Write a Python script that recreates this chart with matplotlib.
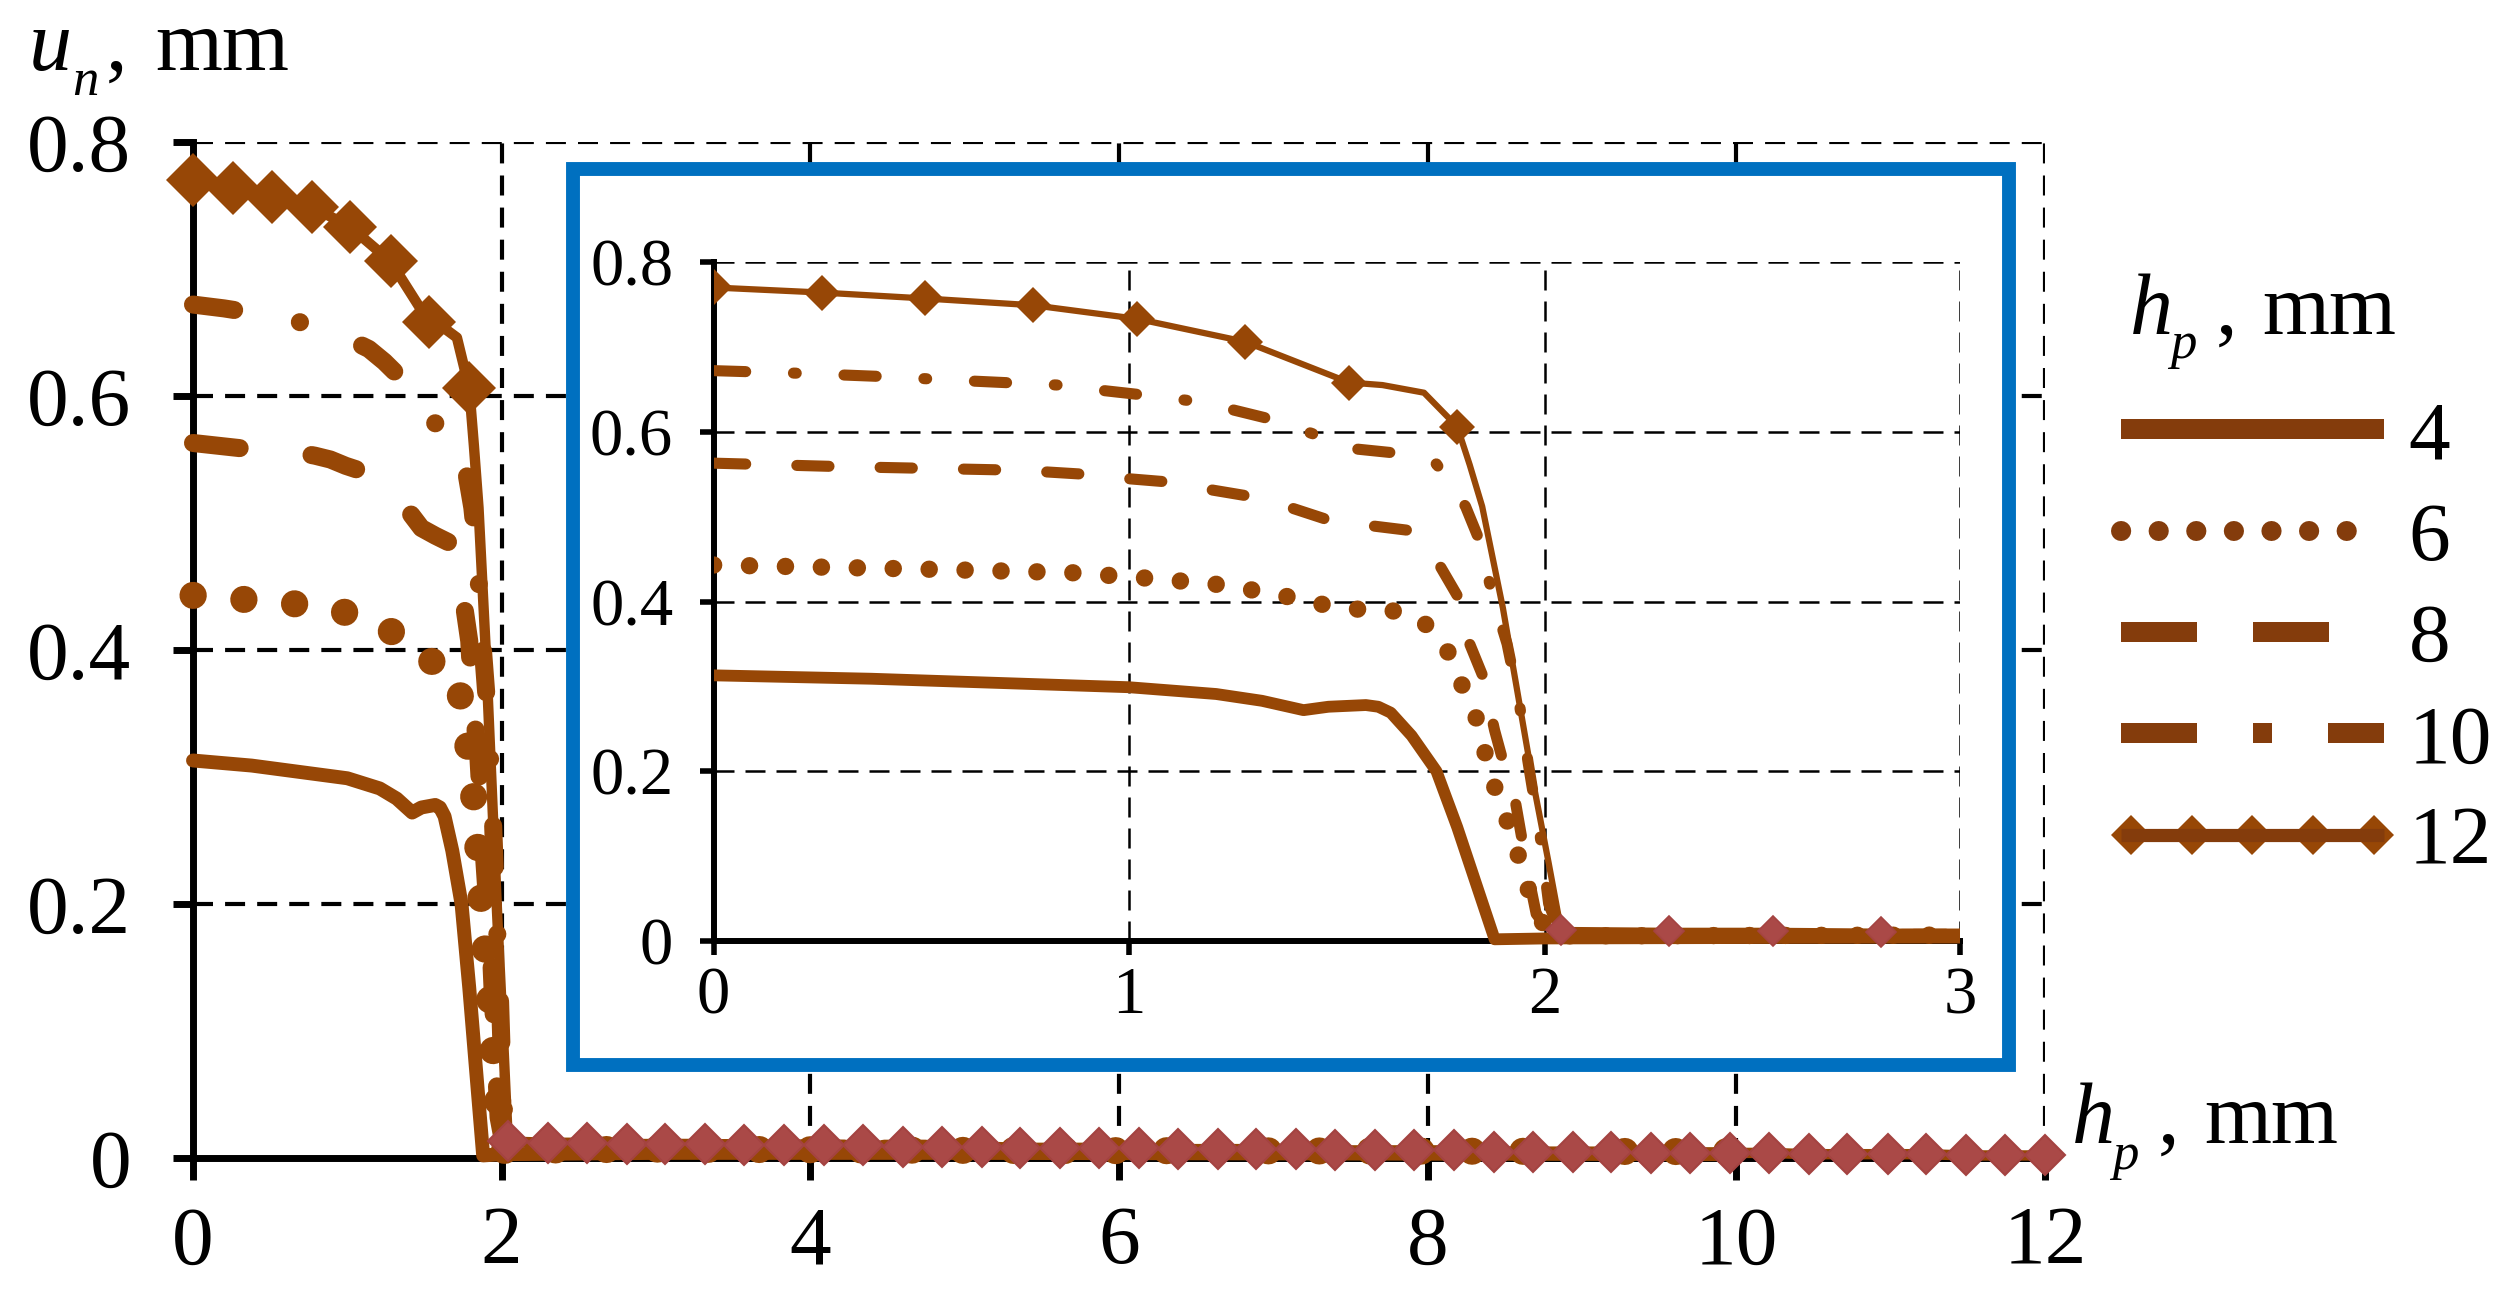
import matplotlib
matplotlib.use('Agg')
import matplotlib.pyplot as plt
from matplotlib.lines import Line2D
from matplotlib.patches import Rectangle
from matplotlib.legend_handler import HandlerLine2D, HandlerTuple

W, H = 2520, 1295
plt.rcParams['font.family'] = ['Liberation Serif', 'DejaVu Serif']

# ---------------- data ----------------
series_labels = ['4', '6', '8', '10', '12']

x4 = [0, 0.38, 1.00, 1.21, 1.32, 1.42, 1.48, 1.57, 1.60, 1.63, 1.68, 1.74, 1.79, 1.88, 2.0, 3.0, 5.0, 10.0]
y4 = [0.313, 0.309, 0.299, 0.291, 0.283, 0.272, 0.276, 0.278, 0.276, 0.269, 0.242, 0.200, 0.134, 0.002, 0.003, 0.004, 0.004, 0.003]

x6 = [0, 0.52, 0.86, 1.03, 1.20, 1.28, 1.37, 1.45, 1.53, 1.62, 1.70, 1.76, 1.79, 1.83, 1.85, 1.87, 1.90, 1.93,
      1.95, 1.98, 2.01, 3.0, 5.0, 10.0]
y6 = [0.443, 0.438, 0.434, 0.428, 0.421, 0.415, 0.407, 0.398, 0.391, 0.391, 0.380, 0.350, 0.313, 0.273, 0.236,
      0.195, 0.155, 0.115, 0.074, 0.038, 0.006, 0.007, 0.006, 0.005]

x8 = [0, 0.30, 0.50, 0.70, 0.79, 0.89, 0.99, 1.09, 1.18, 1.29, 1.38, 1.48, 1.57, 1.67, 1.74, 1.79, 1.81, 1.85,
      1.88, 1.90, 1.93, 1.96, 1.98, 2.02, 3.0, 5.2]
y8 = [0.563, 0.559, 0.557, 0.555, 0.553, 0.550, 0.545, 0.541, 0.533, 0.524, 0.512, 0.496, 0.490, 0.484, 0.449,
      0.407, 0.362, 0.314, 0.248, 0.212, 0.164, 0.080, 0.032, 0.006, 0.008, 0.007]

x10 = [0, 0.20, 0.41, 0.61, 0.83, 0.93, 1.04, 1.14, 1.24, 1.34, 1.44, 1.54, 1.64, 1.74, 1.81, 1.84, 1.88, 1.91,
       1.94, 1.96, 1.99, 2.01, 2.04, 3.0, 5.2]
y10 = [0.672, 0.669, 0.665, 0.660, 0.655, 0.649, 0.643, 0.637, 0.627, 0.615, 0.598, 0.580, 0.575, 0.562, 0.512,
       0.476, 0.398, 0.350, 0.278, 0.212, 0.122, 0.044, 0.006, 0.008, 0.007]

# h = 12: line through the falling part, brown markers, and the near-zero tail (red markers)
x12_line = [0, 0.26, 0.51, 0.77, 1.02, 1.28, 1.53, 1.61, 1.71, 1.76, 1.79, 1.82, 1.85, 1.90, 1.97, 2.01]
y12_line = [0.770, 0.764, 0.757, 0.749, 0.733, 0.706, 0.658, 0.655, 0.646, 0.621, 0.606, 0.561, 0.512, 0.392,
            0.194, 0.092]
x12_mk = [0, 0.26, 0.51, 0.77, 1.02, 1.28, 1.53, 1.79]
y12_mk = [0.770, 0.764, 0.757, 0.749, 0.733, 0.706, 0.658, 0.606]
x12_tail = [2.04, 2.30, 2.55, 2.81, 3.06, 3.32, 3.57, 3.83, 4.09, 4.34, 4.60, 4.85, 5.11, 5.36, 5.62, 5.87,
            6.13, 6.38, 6.64, 6.89, 7.15, 7.40, 7.66, 7.91, 8.17, 8.43, 8.68, 8.94, 9.19, 9.45, 9.70, 9.96,
            10.21, 10.47, 10.72, 10.98, 11.23, 11.49, 11.74, 12.00]
y12_tail = [0.013, 0.012, 0.012, 0.011, 0.011, 0.011, 0.010, 0.010, 0.010, 0.010,
            0.009, 0.009, 0.009, 0.008, 0.008, 0.008, 0.008, 0.007, 0.007, 0.007,
            0.007, 0.006, 0.006, 0.006, 0.006, 0.005, 0.005, 0.005, 0.005, 0.004,
            0.004, 0.004, 0.004, 0.003, 0.003, 0.003, 0.003, 0.002, 0.002, 0.002]

main_xticks = [0, 2, 4, 6, 8, 10, 12]
main_yticks = [0, 0.2, 0.4, 0.6, 0.8]
main_ylabels = ['0', '0.2', '0.4', '0.6', '0.8']
ins_xticks = [0, 1, 2, 3]
ins_yticks = [0, 0.2, 0.4, 0.6, 0.8]
ins_ylabels = ['0', '0.2', '0.4', '0.6', '0.8']

BROWN = '#974706'
LEG_BROWN = '#843C0C'
RED = '#AA4947'
RED_EDGE = '#A44341'
BLUE = '#0070C0'


def rect(l, t, r, b):
    return [l / W, 1 - b / H, (r - l) / W, (b - t) / H]


def fpos(x, y):
    return x / W, 1 - y / H


fig = plt.figure(figsize=(W / 100, H / 100), dpi=100)

# ---------------- main axes ----------------
ax = fig.add_axes(rect(193, 142, 2045, 1158))
ax.set_zorder(0)
ax.set_xlim(0, 12)
ax.set_ylim(0, 0.8)
ax.set_xticks(main_xticks)
ax.set_xticklabels([str(v) for v in main_xticks])
ax.set_yticks(main_yticks)
ax.set_yticklabels(main_ylabels)
ax.tick_params(axis='y', direction='out', length=14.5, width=5, pad=30, labelsize=60)
ax.tick_params(axis='x', direction='out', length=15.5, width=5, pad=19, labelsize=60)
for s in ['top', 'right']:
    ax.spines[s].set_visible(False)
for s in ['left', 'bottom']:
    ax.spines[s].set_linewidth(5)
ax.set_axisbelow(True)
ax.grid(True, color='black', lw=3, linestyle=(0, (4.8, 2.9)))

kw = dict(color=BROWN, clip_on=False, zorder=3)
ax.plot(x4, y4, lw=10, solid_capstyle='round', solid_joinstyle='round', **kw)
ax.plot(x6, y6, lw=19.5, dashes=(0.01, 1.87), dash_capstyle='round', **kw)
ax.plot(x8, y8, lw=13, dashes=(2.6, 4.0), dash_capstyle='round', **kw)
ax.plot(x10, y10, lw=13, dashes=(2.3, 3.7, 0.01, 3.7), dash_capstyle='round', **kw)
ax.plot(x12_line + x12_tail, y12_line + y12_tail, lw=7.5, solid_joinstyle='round', **kw)
ax.plot(x12_mk, y12_mk, ls='none', marker='D', ms=27, mew=0, color=BROWN, clip_on=False, zorder=4)
ax.plot(x12_tail, y12_tail, ls='none', marker='D', ms=20, mfc=RED, mec=RED_EDGE, mew=1.5,
        clip_on=False, zorder=4)

# ---------------- inset frame ----------------
box = Rectangle(fpos(573, 1065), (2009 - 573) / W, (1065 - 169) / H, transform=fig.transFigure,
                facecolor='white', edgecolor=BLUE, lw=10, joinstyle='miter', zorder=1)
fig.add_artist(box)

# ---------------- inset axes ----------------
ins = fig.add_axes(rect(713.5, 262, 1960, 941))
ins.set_zorder(2)
ins.patch.set_alpha(0)
ins.set_xlim(0, 3)
ins.set_ylim(0, 0.8)
ins.set_xticks(ins_xticks)
ins.set_xticklabels([str(v) for v in ins_xticks])
ins.set_yticks(ins_yticks)
ins.set_yticklabels(ins_ylabels)
ins.tick_params(axis='y', direction='out', length=10, width=4, pad=19, labelsize=48)
ins.tick_params(axis='x', direction='out', length=10, width=4, pad=8, labelsize=48)
for s in ['top', 'right']:
    ins.spines[s].set_visible(False)
for s in ['left', 'bottom']:
    ins.spines[s].set_linewidth(4.3)
ins.set_axisbelow(True)
ins.grid(True, color='black', lw=1.8, linestyle=(0, (8, 4.4)))

clip = Rectangle((0, -0.1), 1, 1.2, transform=ins.transAxes, visible=False)
ikw = dict(color=BROWN, zorder=3)
lines = []
lines += ins.plot(x4, y4, lw=8.5, solid_capstyle='round', solid_joinstyle='round', **ikw)
lines += ins.plot(x6, y6, lw=12.5, dashes=(0.01, 2.06), dash_capstyle='round', **ikw)
lines += ins.plot(x8, y8, lw=8, dashes=(2.9, 4.6), dash_capstyle='round', **ikw)
lines += ins.plot(x10, y10, lw=8, dashes=(2.9, 4.3, 0.25, 4.3), dash_capstyle='round', **ikw)
lines += ins.plot(x12_line + x12_tail, y12_line + y12_tail, lw=4.5, solid_joinstyle='round', **ikw)
lines += ins.plot(x12_mk, y12_mk, ls='none', marker='D', ms=18, mew=0, color=BROWN, zorder=4)
lines += ins.plot(x12_tail, y12_tail, ls='none', marker='D', ms=15, mfc=RED, mec=RED_EDGE, mew=1.2, zorder=4)
for ln in lines:
    ln.set_clip_path(clip)

# ---------------- axis labels ----------------
BIG = 62
SMALL = 38
fig.text(*fpos(29, 70), 'u', style='italic', fontsize=BIG, va='baseline', ha='left')
fig.text(*fpos(72, 95), 'n', style='italic', fontsize=SMALL, va='baseline', ha='left')
fig.text(*fpos(106, 70), ',', fontsize=BIG, va='baseline', ha='left')
fig.text(*fpos(155, 70), 'mm', fontsize=BIG, va='baseline', ha='left')

fig.text(*fpos(2072, 1143), 'h', style='italic', fontsize=BIG, va='baseline', ha='left')
fig.text(*fpos(2112, 1169), 'p', style='italic', fontsize=SMALL, va='baseline', ha='left')
fig.text(*fpos(2158, 1143), ',', fontsize=BIG, va='baseline', ha='left')
fig.text(*fpos(2204, 1143), 'mm', fontsize=BIG, va='baseline', ha='left')

fig.text(*fpos(2130, 334), 'h', style='italic', fontsize=BIG, va='baseline', ha='left')
fig.text(*fpos(2170, 358), 'p', style='italic', fontsize=SMALL, va='baseline', ha='left')
fig.text(*fpos(2216, 334), ',', fontsize=BIG, va='baseline', ha='left')
fig.text(*fpos(2262, 334), 'mm', fontsize=BIG, va='baseline', ha='left')

# ---------------- legend ----------------
h4 = Line2D([], [], color=LEG_BROWN, lw=14.4, solid_capstyle='butt')
h6 = Line2D([], [], color=LEG_BROWN, lw=14.4, dashes=(0.01, 1.87), dash_capstyle='round')
h8 = Line2D([], [], color=LEG_BROWN, lw=14.4, dashes=(3.8, 2.8), dash_capstyle='butt')
h10 = Line2D([], [], color=LEG_BROWN, lw=14.4, dashes=(3.8, 2.8, 0.95, 2.8), dash_capstyle='butt')
h12m = Line2D([], [], ls='none', marker='D', ms=20, mew=0, color=BROWN)
h12l = Line2D([], [], color=LEG_BROWN, lw=9.5, solid_capstyle='butt')
leg = fig.legend([h4, h6, h8, h10, (h12m, h12l)], series_labels, loc='upper left',
                 bbox_to_anchor=fpos(2121, 400), bbox_transform=fig.transFigure,
                 frameon=False, fontsize=60, handlelength=3.15, handletextpad=0.3,
                 labelspacing=0.3, borderpad=0, borderaxespad=0,
                 handler_map={tuple: HandlerTuple(ndivide=1, pad=0),
                              h12m: HandlerLine2D(numpoints=5, marker_pad=0.12)})
leg.set_zorder(5)

fig.savefig('out.png', dpi=100)
